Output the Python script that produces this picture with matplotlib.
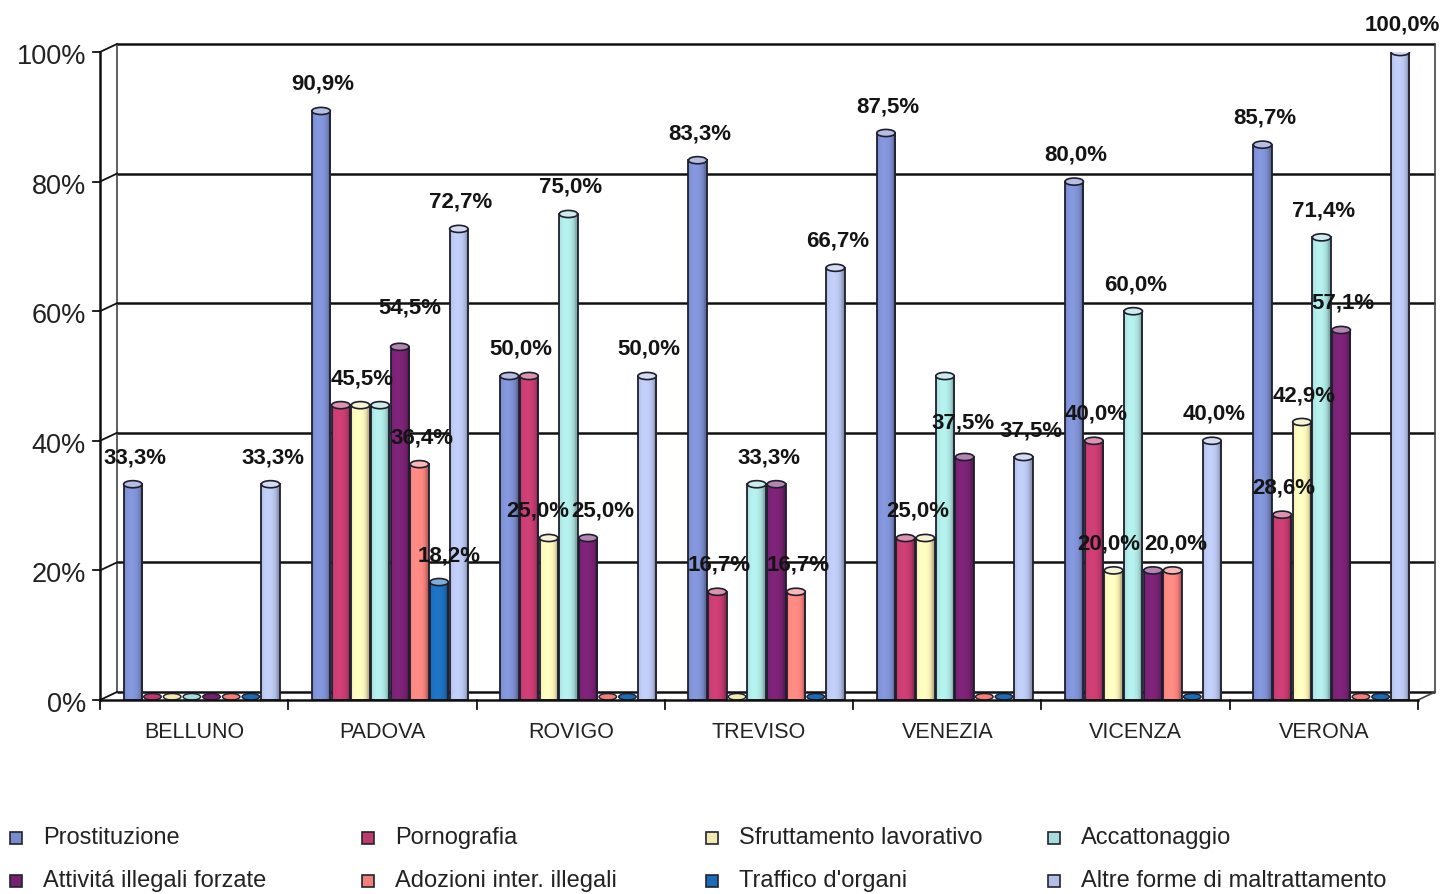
import numpy as np
import matplotlib
matplotlib.use("Agg")
import matplotlib.pyplot as plt
import matplotlib.colors as mcolors
from matplotlib.patches import Rectangle, Ellipse
from matplotlib.transforms import ScaledTranslation

plt.rcParams["font.family"] = ["Liberation Sans", "DejaVu Sans"]

# ---- data -----------------------------------------------------------------
provinces = ["BELLUNO", "PADOVA", "ROVIGO", "TREVISO", "VENEZIA", "VICENZA", "VERONA"]

series_names = [
    "Prostituzione",
    "Pornografia",
    "Sfruttamento lavorativo",
    "Accattonaggio",
    "Attivitá illegali forzate",
    "Adozioni inter. illegali",
    "Traffico d'organi",
    "Altre forme di maltrattamento",
]

prostituzione = [33.3, 90.9, 50.0, 83.3, 87.5, 80.0, 85.7]
pornografia = [0.0, 45.5, 50.0, 16.7, 25.0, 40.0, 28.6]
sfruttamento = [0.0, 45.5, 25.0, 0.0, 25.0, 20.0, 42.9]
accattonaggio = [0.0, 45.5, 75.0, 33.3, 50.0, 60.0, 71.4]
attivita_forzate = [0.0, 54.5, 25.0, 33.3, 37.5, 20.0, 57.1]
adozioni = [0.0, 36.4, 0.0, 16.7, 0.0, 20.0, 0.0]
traffico_organi = [0.0, 18.2, 0.0, 0.0, 0.0, 0.0, 0.0]
altre_forme = [33.3, 72.7, 50.0, 66.7, 37.5, 40.0, 100.0]

series_values = [prostituzione, pornografia, sfruttamento, accattonaggio,
                 attivita_forzate, adozioni, traffico_organi, altre_forme]

y_ticks = [0, 20, 40, 60, 80, 100]
y_tick_labels = ["0%", "20%", "40%", "60%", "80%", "100%"]

# value labels that are not shown: (province index, series index)
hidden_labels = {(4, 3)}

# small label shifts (pixels) where neighbouring labels would collide
label_nudge = {
    (1, 4): (8, 12),
    (1, 6): (8, 0),
    (2, 2): (-13, 0),
    (2, 4): (13, 0),
    (4, 4): (-4, 8),
    (4, 7): (5, 0),
    (5, 2): (-7, 0),
    (5, 4): (11, 0),
}

# ---- style ----------------------------------------------------------------
colors = ["#7A8BCB", "#BE3A6C", "#F1EAB2", "#A6DDDA",
          "#74216F", "#F2807A", "#1B6BB5", "#B2BEE4"]
edge = "#1E1E2E"
grid_col = "#111111"

W, H, DPI = 1440, 894, 100
fig = plt.figure(figsize=(W / DPI, H / DPI), dpi=DPI)
fig.patch.set_facecolor("white")

x0, x1 = 100, 1418      # front plane, pixels
y0, y1 = 700, 52
ax = fig.add_axes([x0 / W, 1 - y0 / H, (x1 - x0) / W, (y0 - y1) / H])
ax.set_xlim(-0.5, len(provinces) - 0.5)
ax.set_ylim(0, 100)
ax.axis("off")

dx, dy = 17, 8          # depth offset of back wall, pixels
back = ax.transData + ScaledTranslation(dx / DPI, dy / DPI, fig.dpi_scale_trans)
xmin, xmax = ax.get_xlim()

# back wall gridlines + walls
for t in y_ticks:
    ax.plot([xmin, xmax], [t, t], color=grid_col, lw=1.8, transform=back,
            zorder=1, clip_on=False, solid_capstyle="butt")
ax.plot([xmin, xmin], [0, 100], color="#444444", lw=1.2, transform=back, zorder=1, clip_on=False)
ax.plot([xmax, xmax], [0, 100], color="#444444", lw=1.2, transform=back, zorder=1, clip_on=False)

# depth connectors on the left wall and floor corner
pix = ax.transData
for t in y_ticks:
    px, py = pix.transform((xmin, t))
    bx, by = px + dx, py + dy
    fig.add_artist(plt.Line2D([px / W, bx / W], [py / H, by / H],
                              color=grid_col, lw=1.3, transform=fig.transFigure))
    fig.add_artist(plt.Line2D([(px - 7) / W, px / W], [py / H, py / H],
                              color=grid_col, lw=1.3, transform=fig.transFigure))
px, py = pix.transform((xmax, 0))
fig.add_artist(plt.Line2D([px / W, (px + dx) / W], [py / H, (py + dy) / H],
                          color="#444444", lw=1.2, transform=fig.transFigure))

# front axis and floor edge
ax.plot([xmin, xmin], [0, 100], color=grid_col, lw=1.8, zorder=6, clip_on=False)
ax.plot([xmin, xmax], [0, 0], color=grid_col, lw=1.8, zorder=6, clip_on=False)
for k in range(len(provinces) + 1):
    xb = xmin + k
    px, py = pix.transform((xb, 0))
    fig.add_artist(plt.Line2D([px / W, px / W], [py / H, (py - 9) / H],
                              color=grid_col, lw=1.3, transform=fig.transFigure))

# y tick labels and category labels
for t, lab in zip(y_ticks, y_tick_labels):
    ax.text(xmin, t, lab,
            transform=ax.transData + ScaledTranslation(-14 / DPI, -5 / DPI, fig.dpi_scale_trans),
            ha="right", va="center", fontsize=19.5, color="#222222")
for i, name in enumerate(provinces):
    ax.text(i, 0, name,
            transform=ax.transData + ScaledTranslation(0, -33 / DPI, fig.dpi_scale_trans),
            ha="center", va="center", fontsize=15.5, color="#222222")

# ---- cylinders ------------------------------------------------------------
n_series = len(series_names)
step = 0.1045
bar_w = 0.098
shift = 0.04
cap_h = 1.1   # ellipse height in data units

prof_t = np.linspace(-1, 1, 64)
shade = 0.78 + 0.32 * np.sqrt(np.clip(1 - (prof_t + 0.25) ** 2, 0, 1))


def cylinder(xc, h, color, z):
    rgb = np.array(mcolors.to_rgb(color))
    if h > 0:
        img = np.clip(rgb[None, :] * shade[:, None], 0, 1)[None, :, :]
        rect = Rectangle((xc - bar_w / 2, 0), bar_w, h, facecolor="none",
                         edgecolor=edge, lw=1.3, zorder=z + 0.2)
        ax.add_patch(rect)
        im = ax.imshow(img, extent=(xc - bar_w / 2, xc + bar_w / 2, 0, h),
                       aspect="auto", zorder=z, interpolation="bilinear")
        im.set_clip_path(rect)
        top = np.clip(rgb * 0.55 + 0.45, 0, 1)
        ax.add_patch(Ellipse((xc, h), bar_w, cap_h, facecolor=top,
                             edgecolor=edge, lw=1.2, zorder=z + 0.3))
    else:
        ax.add_patch(Ellipse((xc, 0.5), bar_w * 0.95, cap_h * 0.9, facecolor=color,
                             edgecolor=edge, lw=1.0, zorder=z + 0.3))


for g in range(len(provinces)):
    for s in range(n_series):
        xc = g + shift + (s - (n_series - 1) / 2) * step
        cylinder(xc, series_values[s][g], colors[s], 3 + s * 0.01)

# value labels: equal neighbouring values share one label
PT = 72 / DPI
for g in range(len(provinces)):
    s = 0
    while s < n_series:
        v = series_values[s][g]
        e = s
        while e + 1 < n_series and series_values[e + 1][g] == v:
            e += 1
        if v > 0 and (g, s) not in hidden_labels:
            xc = g + shift + ((s + e) / 2 - (n_series - 1) / 2) * step
            nx, ny = label_nudge.get((g, s), (0, 0))
            txt = f"{v:.1f}".replace(".", ",") + "%"
            ax.annotate(txt, (xc, v), xytext=((2 + nx) * PT, (16 + ny) * PT),
                        textcoords="offset points",
                        ha="center", va="bottom", fontsize=16, fontweight="bold",
                        color="#141414", zorder=10, annotation_clip=False)
        s = e + 1

# ---- legend ---------------------------------------------------------------
col_x = [10, 362, 706, 1048]
row_y = [838, 881]
for s, name in enumerate(series_names):
    r, c = divmod(s, 4)
    sx, sy = col_x[c], row_y[r]
    fig.add_artist(Rectangle((sx / W, 1 - (sy + 6) / H), 12 / W, 12 / H,
                             facecolor=colors[s], edgecolor="#222233", lw=1.2,
                             transform=fig.transFigure))
    fig.text((sx + 33) / W, 1 - sy / H, name, ha="left", va="center",
             fontsize=17, color="#222222")

fig.savefig("out.png", dpi=DPI, facecolor="white")
